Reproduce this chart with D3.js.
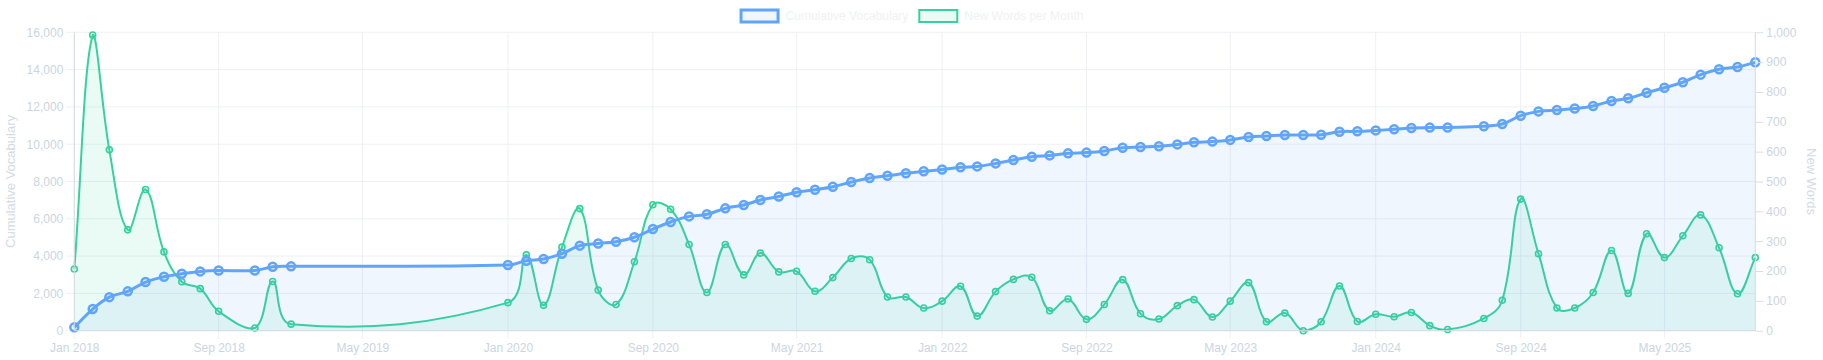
<!DOCTYPE html>
<html>
<head>
<meta charset="utf-8">
<script src="https://cdn.jsdelivr.net/npm/d3@7"></script>
<style>
  html, body { margin: 0; padding: 0; background: #fff; }
  svg { display: block; font-family: "Liberation Sans", Arial, Helvetica, sans-serif; }
</style>
</head>
<body>
<div id="chart"></div>
<script>
// monthly observations (a few months have no entry)
const months = [
  "2018-01","2018-02","2018-03","2018-04","2018-05","2018-06","2018-07","2018-08","2018-09",
  "2018-11","2018-12","2019-01",
  "2020-01","2020-02","2020-03","2020-04","2020-05","2020-06","2020-07","2020-08","2020-09","2020-10","2020-11","2020-12",
  "2021-01","2021-02","2021-03","2021-04","2021-05","2021-06","2021-07","2021-08","2021-09","2021-10","2021-11","2021-12",
  "2022-01","2022-02","2022-03","2022-04","2022-05","2022-06","2022-07","2022-08","2022-09","2022-10","2022-11","2022-12",
  "2023-01","2023-02","2023-03","2023-04","2023-05","2023-06","2023-07","2023-08","2023-09","2023-10","2023-11","2023-12",
  "2024-01","2024-02","2024-03","2024-04","2024-05","2024-07","2024-08","2024-09","2024-10","2024-11","2024-12",
  "2025-01","2025-02","2025-03","2025-04","2025-05","2025-06","2025-07","2025-08","2025-09","2025-10"
];

const cumulativeVocab = [
  180, 1160, 1800, 2110, 2610, 2890, 3050, 3180, 3230,
  3230, 3430, 3450,
  3520, 3750, 3840, 4130, 4560, 4680, 4770, 5010, 5450, 5830, 6130, 6240,
  6560, 6740, 7010, 7200, 7420, 7560, 7720, 7970, 8190, 8310, 8440, 8550,
  8640, 8760, 8810, 8970, 9150, 9330, 9400, 9510, 9550, 9640, 9810, 9850,
  9890, 9990, 10100, 10140, 10230, 10390, 10440, 10490, 10490, 10510, 10670, 10690,
  10740, 10800, 10870, 10890, 10900, 10960, 11080, 11530, 11760, 11830, 11910,
  12050, 12320, 12460, 12760, 13030, 13320, 13730, 14020, 14140, 14390
];

const newWords = [
  207, 991, 606, 338, 473, 264, 164, 141, 65,
  9, 165, 22,
  94, 254, 85, 280, 409, 136, 88, 231, 422, 407, 289, 128,
  289, 187, 260, 197, 199, 132, 178, 242, 238, 113, 113, 76,
  99, 149, 49, 131, 172, 179, 67, 106, 38, 88, 171, 57,
  39, 84, 104, 46, 99, 161, 30, 59, 0, 30, 150, 31,
  55, 47, 61, 17, 4, 41, 102, 441, 258, 76, 76,
  128, 269, 125, 325, 245, 318, 388, 278, 124, 245
];

const xTickMonths = ["2018-01","2018-09","2019-05","2020-01","2020-09","2021-05",
                     "2022-01","2022-09","2023-05","2024-01","2024-09","2025-05"];
const leftTicks = [0, 2000, 4000, 6000, 8000, 10000, 12000, 14000, 16000];
const rightTicks = [0, 100, 200, 300, 400, 500, 600, 700, 800, 900, 1000];

const seriesNames = ["Cumulative Vocabulary", "New Words per Month"];

let width = 1823;
let height = 360;
let area = { left: 74.3, right: 1755.3, top: 32.3, bottom: 330.7 };

const blue = "#60a5fa", blueFill = "rgba(96,165,250,0.1)";
const green = "#34d399", greenFill = "rgba(52,211,153,0.1)";
const gridColor = "#eef0f4";
const borderColor = "#d6dbe2";
const tickText = "#cbd5e1";
const titleText = "#d3dbe6";
const legendText = "#eef2f7";

const parseMonth = d3.timeParse("%Y-%m");
const dates = months.map(parseMonth);

let svg = d3.select("#chart").append("svg")
  .attr("width", width)
  .attr("height", height);

let x = d3.scaleTime()
  .domain(d3.extent(dates))
  .range([area.left, area.right]);
let yLeft = d3.scaleLinear().domain([0, 16000]).range([area.bottom, area.top]);
let yRight = d3.scaleLinear().domain([0, 1000]).range([area.bottom, area.top]);

// Chart.js style spline (tension 0.4, control points capped to the chart area)
function splinePath(pts, tension) {
  let n = pts.length;
  let cps = pts.map((p, i) => {
    let prev = i > 0 ? pts[i - 1] : p;
    let next = i < n - 1 ? pts[i + 1] : p;
    let d01 = Math.hypot(p.x - prev.x, p.y - prev.y);
    let d12 = Math.hypot(next.x - p.x, next.y - p.y);
    let s01 = d01 / (d01 + d12), s12 = d12 / (d01 + d12);
    if (isNaN(s01)) s01 = 0;
    if (isNaN(s12)) s12 = 0;
    let fa = tension * s01, fb = tension * s12;
    let c = {
      px: p.x - fa * (next.x - prev.x), py: p.y - fa * (next.y - prev.y),
      nx: p.x + fb * (next.x - prev.x), ny: p.y + fb * (next.y - prev.y)
    };
    let cx = v => Math.max(area.left, Math.min(area.right, v));
    let cy = v => Math.max(area.top, Math.min(area.bottom, v));
    c.px = cx(c.px); c.nx = cx(c.nx); c.py = cy(c.py); c.ny = cy(c.ny);
    return c;
  });
  let path = d3.path();
  path.moveTo(pts[0].x, pts[0].y);
  for (let i = 1; i < n; i++) {
    path.bezierCurveTo(cps[i - 1].nx, cps[i - 1].ny, cps[i].px, cps[i].py, pts[i].x, pts[i].y);
  }
  return path.toString();
}

// grid lines
let grid = svg.append("g").attr("class", "grid");
grid.selectAll("line.h")
  .data(leftTicks)
  .enter().append("line")
    .attr("class", "h")
    .attr("x1", area.left - 8).attr("x2", area.right)
    .attr("y1", d => yLeft(d)).attr("y2", d => yLeft(d))
    .attr("stroke", gridColor).attr("stroke-width", 1);
grid.selectAll("line.v")
  .data(xTickMonths.map(parseMonth))
  .enter().append("line")
    .attr("class", "v")
    .attr("x1", d => x(d)).attr("x2", d => x(d))
    .attr("y1", area.top).attr("y2", area.bottom + 8)
    .attr("stroke", gridColor).attr("stroke-width", 1);

// draw one dataset: fill, line, points
function drawSeries(values, yScale, color, fill, lineWidth, radius, pointBorder) {
  let pts = values.map((v, i) => ({ x: x(dates[i]), y: yScale(v) }));
  let line = splinePath(pts, 0.4);
  let g = svg.append("g");
  g.append("path")
    .attr("d", line + `L${pts[pts.length - 1].x},${area.bottom}L${pts[0].x},${area.bottom}Z`)
    .attr("fill", fill);
  g.append("path")
    .attr("d", line)
    .attr("fill", "none")
    .attr("stroke", color)
    .attr("stroke-width", lineWidth);
  g.selectAll("circle")
    .data(pts)
    .enter().append("circle")
      .attr("cx", d => d.x)
      .attr("cy", d => d.y)
      .attr("r", radius)
      .attr("fill", fill)
      .attr("stroke", color)
      .attr("stroke-width", pointBorder);
}

// Chart.js paints the last dataset first
drawSeries(newWords, yRight, green, greenFill, 2, 3, 1.6);
drawSeries(cumulativeVocab, yLeft, blue, blueFill, 3, 4, 2.5);

// axes
function styleAxis(g, lineColor) {
  g.select(".domain").remove();
  g.selectAll(".tick line").attr("stroke", lineColor);
  g.selectAll(".tick text")
    .attr("fill", tickText)
    .attr("font-size", 12)
    .attr("font-family", '"Liberation Sans", Arial, Helvetica, sans-serif');
}

let leftAxis = svg.append("g")
  .attr("transform", `translate(${area.left},0)`)
  .call(d3.axisLeft(yLeft).tickValues(leftTicks).tickFormat(d3.format(",")).tickSize(0).tickPadding(11));
styleAxis(leftAxis, gridColor);

let rightAxis = svg.append("g")
  .attr("transform", `translate(${area.right},0)`)
  .call(d3.axisRight(yRight).tickValues(rightTicks).tickFormat(d3.format(",")).tickSize(8).tickPadding(3));
styleAxis(rightAxis, "#d9dee5");

let bottomAxis = svg.append("g")
  .attr("transform", `translate(0,${area.bottom})`)
  .call(d3.axisBottom(x).tickValues(xTickMonths.map(parseMonth)).tickFormat(d3.timeFormat("%b %Y")).tickSize(0).tickPadding(12.5));
styleAxis(bottomAxis, gridColor);

// axis borders
svg.append("line")
  .attr("x1", area.left).attr("x2", area.left)
  .attr("y1", area.top).attr("y2", area.bottom)
  .attr("stroke", borderColor);
svg.append("line")
  .attr("x1", area.right).attr("x2", area.right)
  .attr("y1", area.top).attr("y2", area.bottom)
  .attr("stroke", borderColor);
svg.append("line")
  .attr("x1", area.left).attr("x2", area.right)
  .attr("y1", area.bottom).attr("y2", area.bottom)
  .attr("stroke", borderColor);

// axis titles
let midY = (area.top + area.bottom) / 2;
svg.append("text")
  .attr("transform", `translate(14.5,${midY}) rotate(-90)`)
  .attr("text-anchor", "middle")
  .attr("font-size", 13)
  .attr("fill", titleText)
  .text("Cumulative Vocabulary");
svg.append("text")
  .attr("transform", `translate(1807,${midY}) rotate(90)`)
  .attr("text-anchor", "middle")
  .attr("font-size", 13)
  .attr("fill", titleText)
  .text("New Words");

// legend, centred like Chart.js: box 40x12, gap 6, item padding 10
let legendItems = [
  { name: seriesNames[0], color: blue, fill: blueFill, border: 3 },
  { name: seriesNames[1], color: green, fill: greenFill, border: 2 }
];
let legend = svg.append("g");
let labels = legend.selectAll("text")
  .data(legendItems)
  .enter().append("text")
    .attr("font-size", 12)
    .attr("fill", legendText)
    .attr("y", 20.2)
    .text(d => d.name);
labels.each(function(d) { d.w = this.getComputedTextLength(); });
let total = d3.sum(legendItems, d => 46 + d.w) + 10 * (legendItems.length - 1);
let cursor = (width - total) / 2;
legendItems.forEach(d => { d.x0 = cursor; cursor += 46 + d.w + 10; });
labels.attr("x", d => d.x0 + 46);
legend.selectAll("rect")
  .data(legendItems)
  .enter().append("rect")
    .attr("x", d => d.x0 + d.border / 2)
    .attr("y", 10 + 0)
    .attr("width", d => 40 - d.border)
    .attr("height", 12)
    .attr("fill", d => d.fill)
    .attr("stroke", d => d.color)
    .attr("stroke-width", d => d.border);
</script>
</body>
</html>
